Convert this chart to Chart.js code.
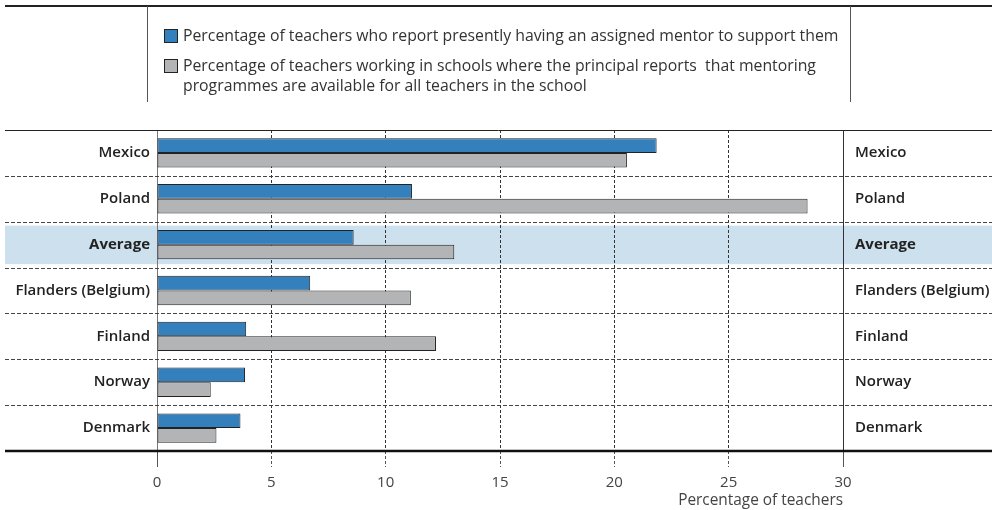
<!DOCTYPE html>
<html>
<head>
<meta charset="utf-8">
<script src="https://cdn.jsdelivr.net/npm/chart.js@4.4.0/dist/chart.umd.min.js"></script>
<style>
    html, body { margin: 0; padding: 0; background: #fff; }
    #wrap { width: 992px; height: 510px; }
</style>
</head>
<body>
<div id="wrap"><canvas id="grafico" width="992" height="510"></canvas></div>
<script>
const paises = ['Mexico', 'Poland', 'Average', 'Flanders (Belgium)', 'Finland', 'Norway', 'Denmark'];
const mentorAsignado = [21.85, 11.15, 8.6, 6.7, 3.9, 3.85, 3.65];
const programaDisponible = [20.55, 28.45, 13.0, 11.1, 12.2, 2.35, 2.6];
const ticksX = [0, 5, 10, 15, 20, 25, 30];
const tituloX = 'Percentage of teachers';
const leyendaAzul = ['Percentage of teachers who report presently having an assigned mentor to support them'];
const leyendaGris = ['Percentage of teachers working in schools where the principal reports  that mentoring',
    'programmes are available for all teachers in the school'];
const filaDestacada = 'Average';

const azul = '#3480bd';
const gris = '#b3b4b6';
const fuente = '"Open Sans", Lato, sans-serif';

Chart.defaults.font.family = fuente;

// fondo, separadores y leyenda dibujados a mano
const decoracion = {
    id: 'decoracion',
    beforeDraw(chart) {
        const ctx = chart.ctx;
        const y = chart.scales.y;
        const idx = paises.indexOf(filaDestacada);
        const cy = y.getPixelForValue(idx);
        ctx.save();
        ctx.fillStyle = '#cde0ee';
        ctx.fillRect(5, cy - 19, 987, 38.5);
        ctx.restore();
    },
    beforeDatasetsDraw(chart) {
        const ctx = chart.ctx;
        const y = chart.scales.y;
        const area = chart.chartArea;
        ctx.save();
        ctx.strokeStyle = '#444';
        ctx.lineWidth = 1;
        ctx.setLineDash([4, 2]);
        for (let i = 0; i < paises.length - 1; i++) {
            const py = Math.round((y.getPixelForValue(i) + y.getPixelForValue(i + 1)) / 2) + 0.5;
            ctx.beginPath();
            ctx.moveTo(5, py);
            ctx.lineTo(992, py);
            ctx.stroke();
        }
        ctx.setLineDash([]);
        ctx.strokeStyle = '#222';
        ctx.beginPath();
        ctx.moveTo(5, Math.round(area.top) + 0.5);
        ctx.lineTo(992, Math.round(area.top) + 0.5);
        ctx.stroke();
        ctx.restore();
    },
    afterDraw(chart) {
        const ctx = chart.ctx;
        const area = chart.chartArea;
        ctx.save();
        // linea inferior gruesa
        ctx.strokeStyle = '#111';
        ctx.lineWidth = 2.5;
        ctx.beginPath();
        ctx.moveTo(5, area.bottom);
        ctx.lineTo(992, area.bottom);
        ctx.stroke();

        // marco de la leyenda
        ctx.strokeStyle = '#222';
        ctx.lineWidth = 2;
        ctx.beginPath();
        ctx.moveTo(5, 6);
        ctx.lineTo(992, 6);
        ctx.stroke();
        ctx.strokeStyle = '#555';
        ctx.lineWidth = 1;
        ctx.beginPath();
        ctx.moveTo(147.5, 6);
        ctx.lineTo(147.5, 102);
        ctx.moveTo(850.5, 6);
        ctx.lineTo(850.5, 102);
        ctx.stroke();

        const items = [
            { color: azul, lineas: leyendaAzul, y: 36 },
            { color: gris, lineas: leyendaGris, y: 66 }
        ];
        ctx.font = '15.8px ' + fuente;
        ctx.textBaseline = 'middle';
        ctx.textAlign = 'left';
        items.forEach(item => {
            ctx.fillStyle = item.color;
            ctx.fillRect(164.5, item.y - 6.5, 13, 13);
            ctx.strokeStyle = '#222';
            ctx.strokeRect(164.5, item.y - 6.5, 13, 13);
            ctx.fillStyle = '#333';
            item.lineas.forEach((t, k) => {
                ctx.fillText(t, 183, item.y + k * 20);
            });
        });
        ctx.restore();
    }
};

const lineaSolida = (c) => (c.tick && (c.tick.value === ticksX[0] || c.tick.value === ticksX[ticksX.length - 1])) ? [] : [3, 2];
const pesoEtiqueta = (c) => ({
    size: 15,
    weight: (c.tick && paises[c.tick.value] === filaDestacada) ? 'bold' : 600
});

new Chart(document.getElementById('grafico').getContext('2d'), {
    type: 'bar',
    data: {
        labels: paises,
        datasets: [{
            label: leyendaAzul.join(' '),
            data: mentorAsignado,
            backgroundColor: azul,
            borderColor: '#222',
            borderWidth: 1,
            borderSkipped: false,
            categoryPercentage: 0.64,
            barPercentage: 1.0
        }, {
            label: leyendaGris.join(' '),
            data: programaDisponible,
            backgroundColor: gris,
            borderColor: '#222',
            borderWidth: 1,
            borderSkipped: false,
            categoryPercentage: 0.64,
            barPercentage: 1.0
        }]
    },
    options: {
        indexAxis: 'y',
        responsive: false,
        animation: false,
        layout: { padding: { top: 130, left: 0, right: 0, bottom: 0 } },
        plugins: {
            legend: { display: false },
            tooltip: { enabled: false }
        },
        scales: {
            x: {
                type: 'linear',
                position: 'bottom',
                min: ticksX[0],
                max: ticksX[ticksX.length - 1],
                afterBuildTicks: (s) => { s.ticks = ticksX.map(v => ({ value: v })); },
                afterFit: (s) => { s.height = 59; },
                ticks: {
                    color: '#444',
                    font: { size: 15 },
                    padding: 7
                },
                grid: {
                    color: (c) => (c.tick && c.tick.value === ticksX[0]) ? '#777' : '#333',
                    lineWidth: 1,
                    drawTicks: true,
                    tickLength: 16,
                    tickColor: '#555',
                    tickBorderDash: lineaSolida
                },
                border: { display: false, dash: lineaSolida },
                title: {
                    display: true,
                    text: tituloX,
                    align: 'end',
                    color: '#444',
                    font: { size: 15.4 },
                    padding: { top: 0, bottom: 0 }
                }
            },
            y: {
                type: 'category',
                position: 'left',
                offset: true,
                afterFit: (s) => { s.width = 157; },
                grid: { display: false, drawTicks: false },
                border: { display: false },
                ticks: {
                    color: '#222',
                    font: pesoEtiqueta,
                    padding: 7
                }
            },
            y2: {
                type: 'category',
                position: 'right',
                labels: paises,
                offset: true,
                afterFit: (s) => { s.width = 149; },
                grid: { display: false, drawTicks: false },
                border: { display: false },
                ticks: {
                    color: '#222',
                    font: pesoEtiqueta,
                    padding: 12
                }
            }
        }
    },
    plugins: [decoracion]
});
</script>
</body>
</html>
